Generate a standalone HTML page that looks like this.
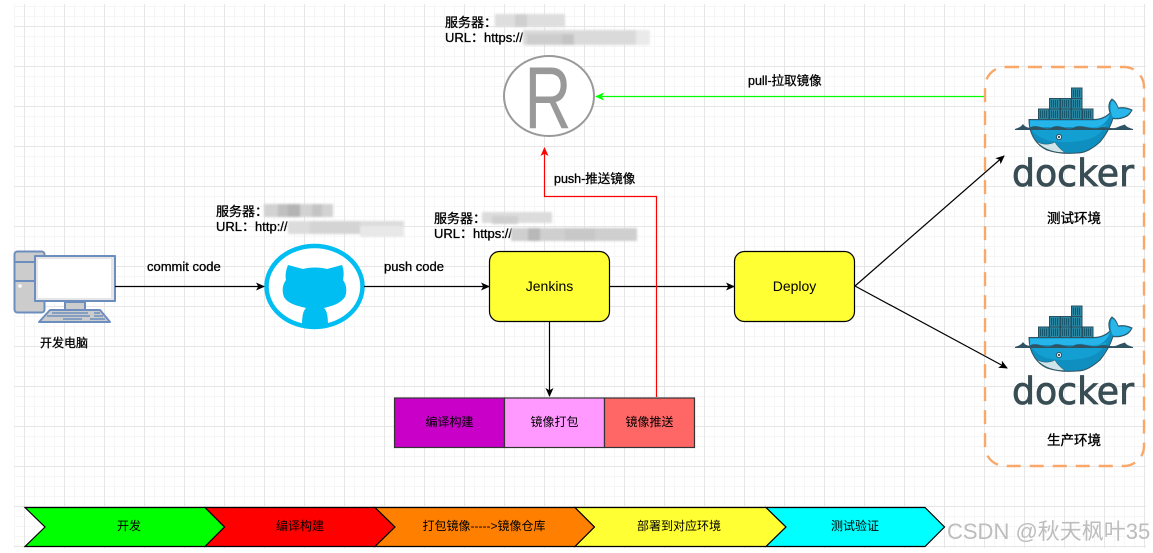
<!DOCTYPE html>
<html><head><meta charset="utf-8">
<style>
html,body{margin:0;padding:0;background:#fff;width:1153px;height:553px;overflow:hidden}
svg{display:block}
text{font-family:"Liberation Sans","Noto Sans CJK SC",sans-serif;font-size:12px;fill:#000}
.b{stroke:#000;stroke-width:.3px;font-size:13px}
.m{stroke:#000;stroke-width:.3px;font-size:12.5px}
.e{stroke:#000;stroke-width:.35px;font-size:13.5px}
.c{text-anchor:middle}
</style></head><body>
<svg width="1153" height="553" viewBox="0 0 1153 553" xmlns="http://www.w3.org/2000/svg">
<defs>
<pattern id="gm" x="15" y="7" width="10" height="10" patternUnits="userSpaceOnUse"><path d="M9.5 0V10M0 9.5H10" fill="none" stroke="#f6f6f6" stroke-width="1"/></pattern>
<pattern id="gM" x="24" y="26" width="40" height="40" patternUnits="userSpaceOnUse"><path d="M.5 0V40M0 .5H40" fill="none" stroke="#e6e6e6" stroke-width="1"/></pattern>
<filter id="bl" x="-10%" y="-30%" width="120%" height="160%"><feGaussianBlur stdDeviation="1"/></filter>
<marker id="ak" markerWidth="10" markerHeight="10" refX="8" refY="5" orient="auto" markerUnits="userSpaceOnUse"><path d="M0 1L9 5L0 9L2.2 5Z" fill="#000"/></marker>
<marker id="ar" markerWidth="10" markerHeight="10" refX="8" refY="5" orient="auto" markerUnits="userSpaceOnUse"><path d="M0 1L9 5L0 9L2.2 5Z" fill="#f00"/></marker>
<marker id="ag" markerWidth="10" markerHeight="10" refX="8" refY="5" orient="auto" markerUnits="userSpaceOnUse"><path d="M0 1L9 5L0 9L2.2 5Z" fill="#0f0"/></marker>
<g id="box"><rect width="10.5" height="10.5" fill="#2a87a3" stroke="#284f5d" stroke-width="1"/><path d="M2 1.5V9M4 1.5V9M6 1.5V9M8 1.5V9" stroke="#14586f" stroke-width="1" fill="none"/></g>
<g id="whale">
<use href="#box" x="1038.5" y="109"/><use href="#box" x="1049.5" y="109"/><use href="#box" x="1060.5" y="109"/><use href="#box" x="1071.5" y="109"/><use href="#box" x="1082.5" y="109"/>
<use href="#box" x="1049.5" y="98.5"/><use href="#box" x="1060.5" y="98.5"/><use href="#box" x="1071.5" y="98.5"/>
<use href="#box" x="1071.5" y="88"/>
<path d="M1029 119.5H1093C1100 119.5 1106 117 1110 113C1108 107 1109 102 1112 99C1115 101 1117 104 1118 108C1123 107 1128 108 1132 110C1130 114 1128 116 1125 117C1120 119 1116 119 1113 118.5C1110 128 1105 136 1100 142C1092 149 1085 153 1077 153C1066 154 1056 153 1047 150C1038 146 1029 136 1029 119.5Z" fill="#0e8fbf" stroke="#2f5363" stroke-width="1"/>
<path d="M1030 120.5H1093C1100 120.5 1106 118 1110 114C1108 121 1103 125 1098 127H1030Z" fill="#25b5ea"/>
<path d="M1112 100.500C1115 102 1117 105 1118 109C1123 108 1127 109 1131 110.500C1129 114 1127 115 1124 116.500C1120 118 1116 118 1113 117.500C1110 112 1110 105 1112 100.500Z" fill="#27b7ea"/>
<path d="M1030 127C1038 123 1044 131 1052 127C1060 123 1066 131 1074 127C1082 123 1090 131 1107 124C1100 138 1085 142 1065 142C1048 142 1036 138 1030 127Z" fill="#149fd2"/>
<path d="M1036 141C1043 146 1052 144 1055 142C1057 146 1060 149 1065 152.500C1054 153 1043 149 1036 141Z" fill="#cfe5ea" stroke="#2f5363" stroke-width=".5"/>
<path d="M1015 129C1018 128 1021 127 1023 124C1025 127 1028 128 1030 127.500C1038 123.500 1044 131 1052 127.500C1060 123.500 1066 131 1074 127.500C1082 123.500 1090 130.500 1100 127.500C1106 126 1112 130 1118 127C1120 126 1123 125 1125 124.500C1126 127 1130 128 1133 129V130H1015Z" fill="#2f5363"/>
<circle cx="1059" cy="137" r="2.6" fill="#fff" stroke="#2f5363" stroke-width="1"/><circle cx="1059" cy="137" r="1.2" fill="#2f5363"/>
</g>
</defs>
<rect x="14" y="4" width="1132" height="544" fill="url(#gm)"/>
<rect x="14" y="4" width="1132" height="544" fill="url(#gM)"/>

<!-- computer -->
<g stroke="#6c8ebf" stroke-width="2" stroke-linejoin="round">
<rect x="14.5" y="251.5" width="30" height="61" rx="3" fill="#ccc"/>
<path d="M15 262H35M15 281H35" fill="none"/>
<path d="M65 302H85V310H65Z" fill="#ccc"/>
<path d="M50 310H100L110 322H39Z" fill="#ccc"/>
<rect x="35" y="256" width="80" height="45" fill="#e6e6e6"/>
<rect x="38" y="259" width="73" height="39" fill="#fff" stroke="none"/>
<path d="M52 313H88M94 313H100M47 316H90M94 316H103M63 319H82M90 319H105" stroke-width="1.6" fill="none"/>
</g>
<circle cx="20" cy="286" r="1.8" fill="#fff"/>
<text class="m c" x="64" y="347" style="font-size:12px">开发电脑</text>

<!-- github -->
<ellipse cx="314.5" cy="286.5" rx="48" ry="40.5" fill="#fff" stroke="#00bef2" stroke-width="4.5"/>
<path d="M288 265L303 269C310 267 320 267 327 269L342 265C344 270 344 275 343 280C347 285 347 292 345 297C340 304 332 306 324 308C327 311 328 316 328 326C320 328 310 328 302 326C302 316 303 311 306 308C298 306 288 304 284 297C282 292 282 285 286 280C285 275 286 270 288 265Z" fill="#00bef2"/>

<!-- registry -->
<ellipse cx="549" cy="96" rx="45" ry="40" fill="#fff" stroke="#999" stroke-width="2"/>
<text x="0" y="0" transform="translate(524.500 128) scale(.74 1)" style="font-size:88px;fill:#999">R</text>

<!-- connectors -->
<g fill="none" stroke-width="1.2">
<path d="M115 286.500H264" stroke="#000" marker-end="url(#ak)"/>
<path d="M364 286.500H489" stroke="#000" marker-end="url(#ak)"/>
<path d="M609 286.500H734" stroke="#000" marker-end="url(#ak)"/>
<path d="M549.500 321V396" stroke="#000" marker-end="url(#ak)"/>
<path d="M855 286L1004 156" stroke="#000" marker-end="url(#ak)"/>
<path d="M855 286L1007 368" stroke="#000" marker-end="url(#ak)"/>
<path d="M656.500 397V196.500H544.500V148" stroke="#f00" marker-end="url(#ar)"/>
<path d="M984 96.500H596" stroke="#0f0" marker-end="url(#ag)"/>
</g>

<!-- nodes -->
<rect x="489.500" y="251.500" width="120" height="70" rx="10" fill="#ffff33" stroke="#000" stroke-width="1.2"/>
<rect x="734.500" y="251.500" width="120" height="70" rx="10" fill="#ffff33" stroke="#000" stroke-width="1.2"/>
<text class="c" x="549.500" y="291" style="font-size:14px">Jenkins</text>
<text class="c" x="794.500" y="291" style="font-size:14px">Deploy</text>

<rect x="394.500" y="398" width="110" height="49.500" fill="#c800c8" stroke="#333" stroke-width="1.2"/>
<rect x="504.500" y="398" width="100" height="49.500" fill="#ff99ff" stroke="#333" stroke-width="1.2"/>
<rect x="604.500" y="398" width="90" height="49.500" fill="#ff6666" stroke="#333" stroke-width="1.2"/>
<text class="c" x="449.500" y="426">编译构建</text>
<text class="c" x="554.500" y="426">镜像打包</text>
<text class="c" x="649.500" y="426">镜像推送</text>

<!-- env group -->
<rect x="985" y="67" width="159" height="399" rx="20" fill="none" stroke="#f9a86a" stroke-width="2.400" stroke-dasharray="14 9"/>
<use href="#whale"/>
<use href="#whale" y="218"/>
<text x="1012" y="186" textLength="122" lengthAdjust="spacingAndGlyphs" style="font-family:'DejaVu Sans',sans-serif;font-size:37px;fill:#394d54;stroke:#394d54;stroke-width:.8">docker</text>
<text x="1012" y="404" textLength="122" lengthAdjust="spacingAndGlyphs" style="font-family:'DejaVu Sans',sans-serif;font-size:37px;fill:#394d54;stroke:#394d54;stroke-width:.8">docker</text>
<text class="e c" x="1074" y="223">测试环境</text>
<text class="e c" x="1074" y="445">生产环境</text>

<!-- edge labels -->
<text class="b" x="147" y="271">commit code</text>
<text class="b" x="384" y="271">push code</text>
<text class="m" x="554" y="183">push-推送镜像</text>
<text class="m" x="748" y="85">pull-拉取镜像</text>

<!-- server info -->
<text class="b" x="445" y="27">服务器：</text><text class="b" x="445" y="42">URL：https://</text>
<text class="b" x="216" y="216">服务器：</text><text class="b" x="216" y="231">URL：http://</text>
<text class="b" x="434" y="223">服务器：</text><text class="b" x="434" y="238">URL：https://</text>

<!-- masked values -->
<g fill="#d2d2d2" filter="url(#bl)">
<rect x="264" y="204" width="69" height="13"/><rect x="278" y="204" width="12" height="13" fill="#c0c0c0"/><rect x="288" y="204" width="12" height="13" fill="#b4b4b4"/><rect x="312" y="204" width="10" height="13" fill="#c4c4c4"/>
</g>
<g fill="#d2d2d2" filter="url(#bl)">
<rect x="288" y="221" width="116" height="13" fill="#dcdcdc"/><rect x="310" y="221" width="50" height="13" fill="#d4d4d4"/><rect x="360" y="226" width="44" height="11" fill="#e8e8e8"/>
</g>
<g filter="url(#bl)">
<rect x="495" y="14" width="70" height="13" fill="#dedede"/><rect x="515" y="14" width="12" height="13" fill="#cfcfcf"/>
</g>
<g filter="url(#bl)">
<rect x="523" y="30" width="125" height="15" fill="#dadada"/><rect x="527" y="34" width="35" height="11" fill="#cdcdcd"/><rect x="562" y="34" width="12" height="11" fill="#c4c4c4"/><rect x="636" y="30" width="14" height="15" fill="#eaeaea"/>
</g>
<g filter="url(#bl)">
<rect x="482" y="212" width="70" height="11" fill="#dcdcdc"/><rect x="492" y="216" width="26" height="8" fill="#cfcfcf"/>
</g>
<g filter="url(#bl)">
<rect x="511" y="228" width="126" height="13" fill="#cfcfcf"/><rect x="528" y="228" width="12" height="13" fill="#b8b8b8"/><rect x="565" y="228" width="30" height="13" fill="#c8c8c8"/>
</g>

<!-- process chevrons -->
<g stroke="#000" stroke-width="1.2" stroke-linejoin="miter">
<path d="M25 507.500H205L224.500 527L205 546.500H25L45 527Z" fill="#00ff00"/>
<path d="M205 507.500H375L395 527L375 546.500H205L224.500 527Z" fill="#ff0000"/>
<path d="M375 507.500H575L594.500 527L575 546.500H375L395 527Z" fill="#ff8000"/>
<path d="M575 507.500H766L786 527L766 546.500H575L594.500 527Z" fill="#ffff33"/>
<path d="M766 507.500H925L944.500 527L925 546.500H766L786 527Z" fill="#00ffff"/>
</g>
<text class="c" x="129" y="530">开发</text>
<text class="c" x="300" y="530">编译构建</text>
<text class="c" x="484" y="530">打包镜像-----&gt;镜像仓库</text>
<text class="c" x="679" y="530">部署到对应环境</text>
<text class="c" x="855" y="530">测试验证</text>

<text x="947" y="539" style="font-size:22px;fill:#bdbdbd">CSDN @秋天枫叶35</text>
</svg>
</body></html>
